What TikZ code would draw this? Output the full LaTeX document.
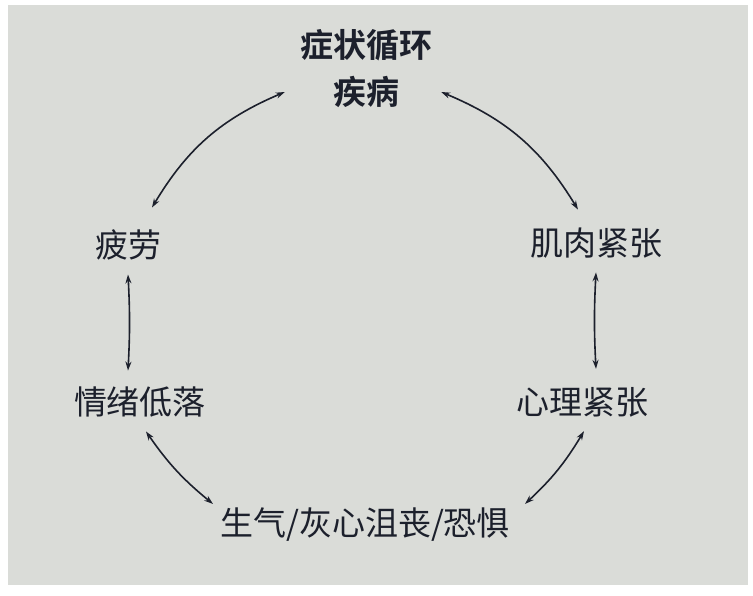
\documentclass[tikz,border=0pt]{standalone}
\usepackage{fontspec}
\newfontfamily\cjk{Noto Sans CJK SC}
\newfontfamily\cjkb{Noto Sans CJK SC Bold}
\usetikzlibrary{arrows.meta}
\definecolor{paper}{RGB}{218,220,216}
\definecolor{ink}{RGB}{28,32,44}
\begin{document}
\begin{tikzpicture}[x=1pt,y=-1pt,
  lbl/.style={inner sep=0pt,text=ink,font=\cjk\fontsize{33}{36}\selectfont},
  lblb/.style={inner sep=0pt,text=ink,font=\cjkb\fontsize{33}{36}\selectfont},
  link/.style={draw=ink,line width=1.6pt,{Stealth[length=9pt,width=6pt]}-{Stealth[length=9pt,width=6pt]}}]
\useasboundingbox (0,0) rectangle (753,595);
\fill[white] (0,0) rectangle (753,595);
\fill[paper] (8,5) rectangle (748,585);
\node[lblb] (t1) at (366,45) {症状循环};
\node[lblb] (t2) at (366,92) {疾病};
\node[lbl] (pl) at (128,245) {疲劳};
\node[lbl] (jr) at (596,243) {肌肉紧张};
\node[lbl] (qx) at (140,402) {情绪低落};
\node[lbl] (xl) at (582,402) {心理紧张};
\node[lbl] (sq) at (365,525) {生气/灰心沮丧/恐惧};
\draw[link] ([xshift=-48pt]t2.west) to[bend right=18] ([xshift=24pt,yshift=22pt]pl.north);
\draw[link] ([xshift=42pt]t2.east) to[bend left=18] ([xshift=-18pt,yshift=18pt]jr.north);
\draw[link] ([yshift=-14pt]pl.south) to[bend left=3] ([yshift=16pt]qx.north -| pl.south);
\draw[link] ([yshift=-14pt]jr.south) to[bend right=3] ([yshift=18pt]xl.north -| jr.south);
\draw[link] ([xshift=6pt,yshift=-14pt]qx.south) to[bend right=8] ([xshift=-152pt,yshift=4pt]sq.north);
\draw[link] ([xshift=2pt,yshift=-14pt]xl.south) to[bend left=8] ([xshift=160pt,yshift=4pt]sq.north);
\end{tikzpicture}
\end{document}
